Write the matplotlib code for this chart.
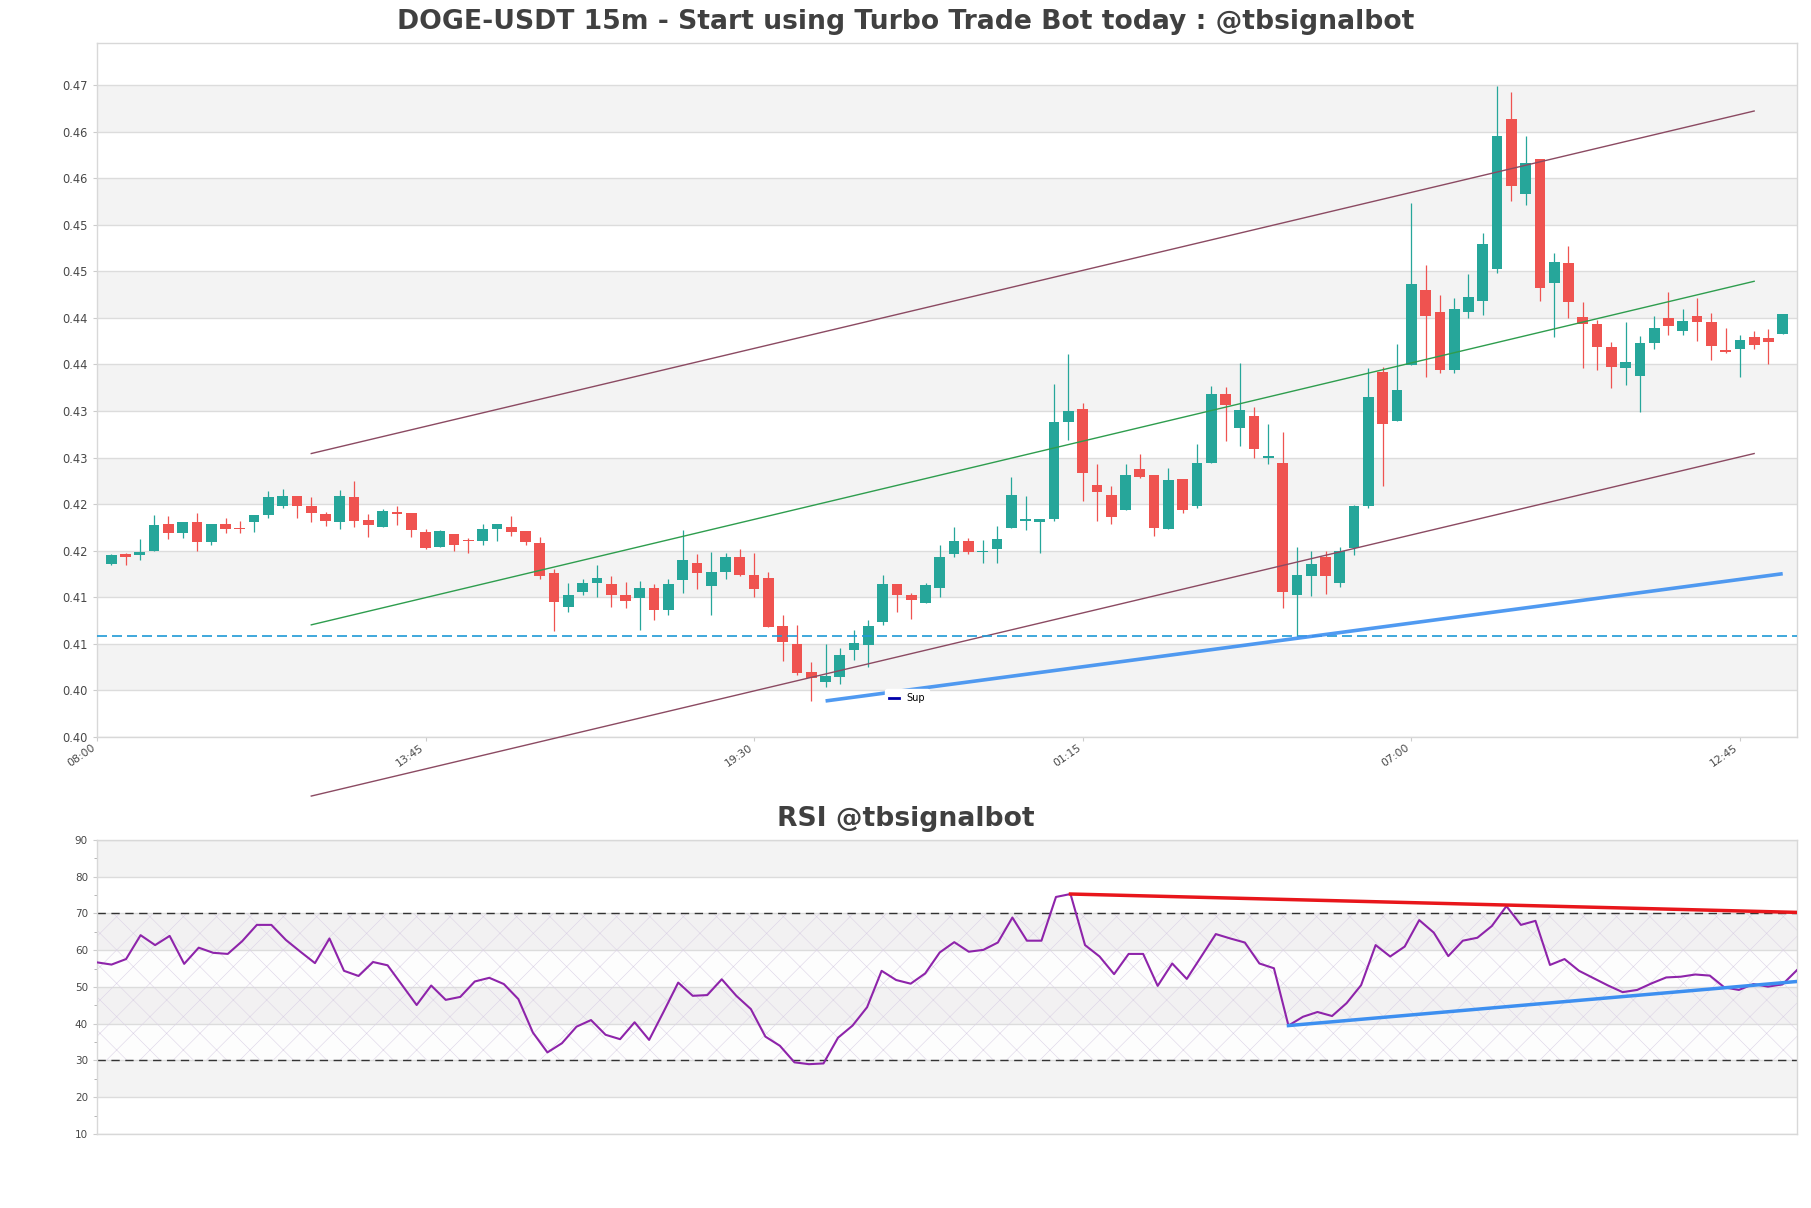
import matplotlib
matplotlib.use("Agg")
import matplotlib.pyplot as plt
from matplotlib.lines import Line2D
import numpy as np

# ---- data ----
opens = [0.41862, 0.41966, 0.41959, 0.42002, 0.42289, 0.42195, 0.42310, 0.42088, 0.42289, 0.42246,
         0.42303, 0.42378, 0.42475, 0.42590, 0.42482, 0.42396, 0.42303, 0.42579, 0.42332, 0.42249,
         0.42418, 0.42407, 0.42203, 0.42045, 0.42181, 0.42120, 0.42099, 0.42235, 0.42256, 0.42213,
         0.42084, 0.41761, 0.41392, 0.41553, 0.41657, 0.41647, 0.41528, 0.41489, 0.41604, 0.41359,
         0.41682, 0.41869, 0.41618, 0.41769, 0.41927, 0.41744, 0.41711, 0.41194, 0.41000, 0.40695,
         0.40595, 0.40649, 0.40929, 0.40990, 0.41230, 0.41647, 0.41528, 0.41435, 0.41596, 0.41962,
         0.42099, 0.41987, 0.42019, 0.42245, 0.42320, 0.42309, 0.42338, 0.43385, 0.43521, 0.42704,
         0.42596, 0.42435, 0.42876, 0.42811, 0.42234, 0.42768, 0.42481, 0.42940, 0.43682, 0.43317,
         0.43446, 0.42998, 0.42940, 0.41524, 0.41729, 0.41933, 0.41653, 0.42030, 0.42481, 0.43923,
         0.43396, 0.43993, 0.44801, 0.44562, 0.43936, 0.44558, 0.44676, 0.45027, 0.46632, 0.45824,
         0.46203, 0.44869, 0.45087, 0.44508, 0.44433, 0.44190, 0.43958, 0.43872, 0.44226, 0.44501,
         0.44355, 0.44523, 0.44455, 0.44154, 0.44161, 0.44297, 0.44287, 0.44322]
highs = [0.41962, 0.41973, 0.42127, 0.42385, 0.42375, 0.42310, 0.42410, 0.42289, 0.42350, 0.42321,
         0.42385, 0.42643, 0.42665, 0.42590, 0.42579, 0.42414, 0.42654, 0.42751, 0.42396, 0.42446,
         0.42482, 0.42407, 0.42235, 0.42224, 0.42181, 0.42138, 0.42289, 0.42289, 0.42375, 0.42213,
         0.42149, 0.41808, 0.41657, 0.41697, 0.41851, 0.41733, 0.41665, 0.41679, 0.41647, 0.41697,
         0.42217, 0.41962, 0.41991, 0.41980, 0.42013, 0.41970, 0.41776, 0.41313, 0.41205, 0.40807,
         0.40993, 0.40954, 0.41148, 0.41259, 0.41740, 0.41647, 0.41550, 0.41654, 0.42063, 0.42250,
         0.42131, 0.42112, 0.42263, 0.42793, 0.42585, 0.42345, 0.43790, 0.44113, 0.43589, 0.42930,
         0.42693, 0.42930, 0.43037, 0.42811, 0.42887, 0.42768, 0.43145, 0.43772, 0.43761, 0.44016,
         0.43543, 0.43360, 0.43274, 0.42041, 0.41998, 0.41998, 0.42041, 0.42492, 0.43958, 0.43976,
         0.44220, 0.45731, 0.45070, 0.44744, 0.44712, 0.44969, 0.45409, 0.46989, 0.46921, 0.46449,
         0.46203, 0.45198, 0.45270, 0.44673, 0.44473, 0.44244, 0.44458, 0.44304, 0.44515, 0.44773,
         0.44594, 0.44712, 0.44551, 0.44390, 0.44315, 0.44355, 0.44380, 0.44544]
lows = [0.41851, 0.41848, 0.41901, 0.42002, 0.42127, 0.42138, 0.42002, 0.42056, 0.42185, 0.42185,
        0.42206, 0.42346, 0.42453, 0.42346, 0.42310, 0.42260, 0.42238, 0.42249, 0.42152, 0.42249,
        0.42281, 0.42142, 0.42013, 0.42045, 0.42002, 0.41980, 0.42056, 0.42109, 0.42163, 0.42056,
        0.41701, 0.41133, 0.41338, 0.41521, 0.41507, 0.41392, 0.41381, 0.41151, 0.41252, 0.41306,
        0.41542, 0.41593, 0.41313, 0.41693, 0.41733, 0.41499, 0.41176, 0.40821, 0.40670, 0.40390,
        0.40537, 0.40570, 0.40828, 0.40756, 0.41198, 0.41345, 0.41270, 0.41435, 0.41507, 0.41930,
        0.41962, 0.41868, 0.41868, 0.42245, 0.42220, 0.41976, 0.42320, 0.43188, 0.42532, 0.42317,
        0.42284, 0.42435, 0.42779, 0.42155, 0.42234, 0.42406, 0.42460, 0.42940, 0.43181, 0.43123,
        0.42994, 0.42930, 0.41384, 0.41080, 0.41510, 0.41531, 0.41610, 0.41954, 0.42460, 0.42697,
        0.43396, 0.43993, 0.43861, 0.43908, 0.43908, 0.44498, 0.44533, 0.44980, 0.45752, 0.45706,
        0.44676, 0.44294, 0.44501, 0.43958, 0.43936, 0.43743, 0.43775, 0.43489, 0.44161, 0.44315,
        0.44315, 0.44247, 0.44044, 0.44119, 0.43865, 0.44165, 0.44004, 0.44322]
closes = [0.41955, 0.41927, 0.41987, 0.42278, 0.42195, 0.42310, 0.42088, 0.42289, 0.42238, 0.42228,
          0.42385, 0.42579, 0.42590, 0.42475, 0.42400, 0.42314, 0.42590, 0.42324, 0.42281, 0.42428,
          0.42389, 0.42217, 0.42031, 0.42213, 0.42066, 0.42099, 0.42235, 0.42289, 0.42206, 0.42088,
          0.41733, 0.41446, 0.41528, 0.41657, 0.41711, 0.41521, 0.41456, 0.41600, 0.41359, 0.41647,
          0.41905, 0.41758, 0.41772, 0.41937, 0.41744, 0.41585, 0.41176, 0.41015, 0.40692, 0.40638,
          0.40652, 0.40882, 0.41011, 0.41194, 0.41647, 0.41521, 0.41467, 0.41636, 0.41937, 0.42099,
          0.41991, 0.42001, 0.42123, 0.42596, 0.42345, 0.42345, 0.43381, 0.43500, 0.42836, 0.42632,
          0.42363, 0.42811, 0.42790, 0.42245, 0.42758, 0.42435, 0.42940, 0.43682, 0.43564, 0.43510,
          0.43094, 0.43016, 0.41557, 0.41736, 0.41854, 0.41729, 0.41998, 0.42481, 0.43650, 0.43363,
          0.43725, 0.44866, 0.44515, 0.43936, 0.44594, 0.44723, 0.45295, 0.46453, 0.45920, 0.46160,
          0.44816, 0.45102, 0.44666, 0.44430, 0.44183, 0.43968, 0.44026, 0.44233, 0.44394, 0.44408,
          0.44469, 0.44451, 0.44194, 0.44136, 0.44265, 0.44208, 0.44237, 0.44544]

rsi = [56.7, 56.1, 57.6, 64.1, 61.4, 63.9, 56.3, 60.7, 59.3, 59.0,
       62.5, 66.9, 66.9, 62.8, 59.6, 56.5, 63.2, 54.4, 53.0, 56.8,
       55.9, 50.5, 45.1, 50.4, 46.5, 47.3, 51.5, 52.5, 50.8, 46.7,
       37.6, 32.2, 34.7, 39.2, 41.0, 37.0, 35.8, 40.4, 35.6, 43.3,
       51.2, 47.6, 47.8, 52.1, 47.6, 44.0, 36.5, 34.0, 29.5, 29.0,
       29.2, 36.2, 39.5, 44.5, 54.4, 51.9, 50.9, 53.7, 59.4, 62.2,
       59.6, 60.1, 62.1, 68.9, 62.6, 62.6, 74.5, 75.3, 61.4, 58.3,
       53.5, 59.0, 59.0, 50.3, 56.4, 52.2, 58.3, 64.4, 63.2, 62.1,
       56.4, 55.1, 39.5, 41.9, 43.2, 42.1, 45.6, 50.5, 61.4, 58.3,
       61.0, 68.2, 64.8, 58.4, 62.6, 63.4, 66.6, 72.0, 66.9, 68.0,
       56.0, 57.6, 54.4, 52.4, 50.4, 48.6, 49.2, 51.0, 52.6, 52.8,
       53.4, 53.1, 49.9, 49.2, 50.8, 50.1, 50.7, 54.6]

time_ticks = [0, 23, 46, 69, 92, 115]
time_labels = ["08:00", "13:45", "19:30", "01:15", "07:00", "12:45"]
price_ticks = [0.400, 0.405, 0.410, 0.415, 0.420, 0.425, 0.430, 0.435,
               0.440, 0.445, 0.450, 0.455, 0.460, 0.465, 0.470]
price_labels = ["0.40", "0.40", "0.41", "0.41", "0.42", "0.42", "0.43", "0.43",
                "0.44", "0.44", "0.45", "0.45", "0.46", "0.46", "0.47"]

# channel lines (x0, x1 / y0, y1)
chan_x = [15, 116]
chan_upper = [0.43043, 0.46720]
chan_mid = [0.41204, 0.44892]
chan_lower = [0.39366, 0.43043]
sup_x = [51, 118]
sup_y = [0.40387, 0.41753]
level = 0.4108

rsi_res_x = [68, 118]
rsi_res_y = [75.3, 70.3]
rsi_sup_x = [83, 118]
rsi_sup_y = [39.5, 51.5]

UP = "#26a69a"
DOWN = "#ef5350"
BAND = "#f3f3f3"
GRID = "#dcdcdc"
TXT = "#404040"

plt.rcParams["hatch.linewidth"] = 0.4

fig = plt.figure(figsize=(18.11, 12.08), dpi=100)
ax = fig.add_axes([0.05356, 0.38990, 0.93871, 0.57450])
ax2 = fig.add_axes([0.05356, 0.06126, 0.93871, 0.24338])


def style_axes(a, size):
    for s in a.spines.values():
        s.set_color("#d8d8d8")
        s.set_linewidth(1)
    a.tick_params(colors="#cccccc", labelcolor="#484848", labelsize=size, length=3)
    a.set_axisbelow(True)


# ---- price panel ----
style_axes(ax, 8.3)
for lo in price_ticks[1::2]:
    ax.axhspan(lo, lo + 0.005, color=BAND, zorder=0, lw=0)
for t in price_ticks:
    ax.axhline(t, color=GRID, lw=1, zorder=0.5)

x = np.arange(1, len(closes) + 1)
o = np.array(opens)
c = np.array(closes)
colors = [UP if cc >= oo else DOWN for oo, cc in zip(o, c)]
ax.vlines(x, lows, highs, colors=colors, lw=0.9, zorder=2)
bottom = np.minimum(o, c)
height = np.maximum(np.abs(c - o), 0.00005)
ax.bar(x, height, bottom=bottom, width=0.75, color=colors, lw=0, zorder=3)

ax.plot(chan_x, chan_upper, color="#8b4a62", lw=1, zorder=4, clip_on=False)
ax.plot(chan_x, chan_mid, color="#2e9d4e", lw=1, zorder=4, clip_on=False)
ax.plot(chan_x, chan_lower, color="#8b4a62", lw=1, zorder=4, clip_on=False)
ax.axhline(level, color="#1f9ad6", lw=1.2, ls=(0, (6, 3)), zorder=4)
ax.plot(sup_x, sup_y, color="#3d8ff0", lw=2.6, alpha=0.9, zorder=5,
        solid_capstyle="butt")

leg = ax.legend(handles=[Line2D([], [], color="#0000aa", lw=2)], labels=["Sup"],
                loc="center", bbox_to_anchor=(0.4765, 0.056), fontsize=7,
                frameon=True, handlelength=1.0, borderpad=0.4, handletextpad=0.8)
leg.get_frame().set_facecolor("white")
leg.get_frame().set_edgecolor("white")
leg.get_frame().set_alpha(1)
leg.set_zorder(6)

ax.set_xlim(0, 119)
ax.set_ylim(0.400, 0.4745)
ax.set_yticks(price_ticks)
ax.set_yticklabels(price_labels)
ax.set_xticks(time_ticks)
ax.set_xticklabels(time_labels, rotation=35, ha="right")
ax.tick_params(axis="x", pad=1, labelsize=7.8)

fig.text(0.5, 0.9818, "DOGE-USDT 15m - Start using Turbo Trade Bot today : @tbsignalbot",
         ha="center", va="center", fontsize=19.2, fontweight="bold", color=TXT)

# ---- RSI panel ----
style_axes(ax2, 7.5)
for lo in [20, 40, 60, 80]:
    ax2.axhspan(lo, lo + 10, color=BAND, zorder=0, lw=0)
for t in range(10, 100, 10):
    ax2.axhline(t, color=GRID, lw=1, zorder=0.5)
xr = np.arange(1, len(rsi) + 1)
ax2.fill_between([1, len(rsi)], 30, 70, facecolor=(0.9, 0.87, 0.93, 0.06),
                 edgecolor="#dcd3e6", hatch="x", lw=0, zorder=1)
ax2.axhline(70, color="#333333", lw=1, ls=(0, (6, 4)), zorder=2)
ax2.axhline(30, color="#333333", lw=1, ls=(0, (6, 4)), zorder=2)
ax2.plot(xr, rsi, color="#8e24aa", lw=1.5, zorder=3)
ax2.plot(rsi_res_x, rsi_res_y, color="#e8161b", lw=2.5, zorder=4)
ax2.plot(rsi_sup_x, rsi_sup_y, color="#3d8ff0", lw=2.5, zorder=4)

ax2.set_xlim(1, len(rsi))
ax2.set_ylim(10, 90)
ax2.set_yticks(range(10, 100, 10))
ax2.set_yticks(range(15, 90, 10), minor=True)
ax2.tick_params(which="minor", length=2, colors="#aaaaaa")
ax2.set_xticks([])

fig.text(0.5, 0.3220, "RSI @tbsignalbot", ha="center", va="center",
         fontsize=19.2, fontweight="bold", color=TXT)

fig.savefig("out.png", dpi=100, facecolor="white")
